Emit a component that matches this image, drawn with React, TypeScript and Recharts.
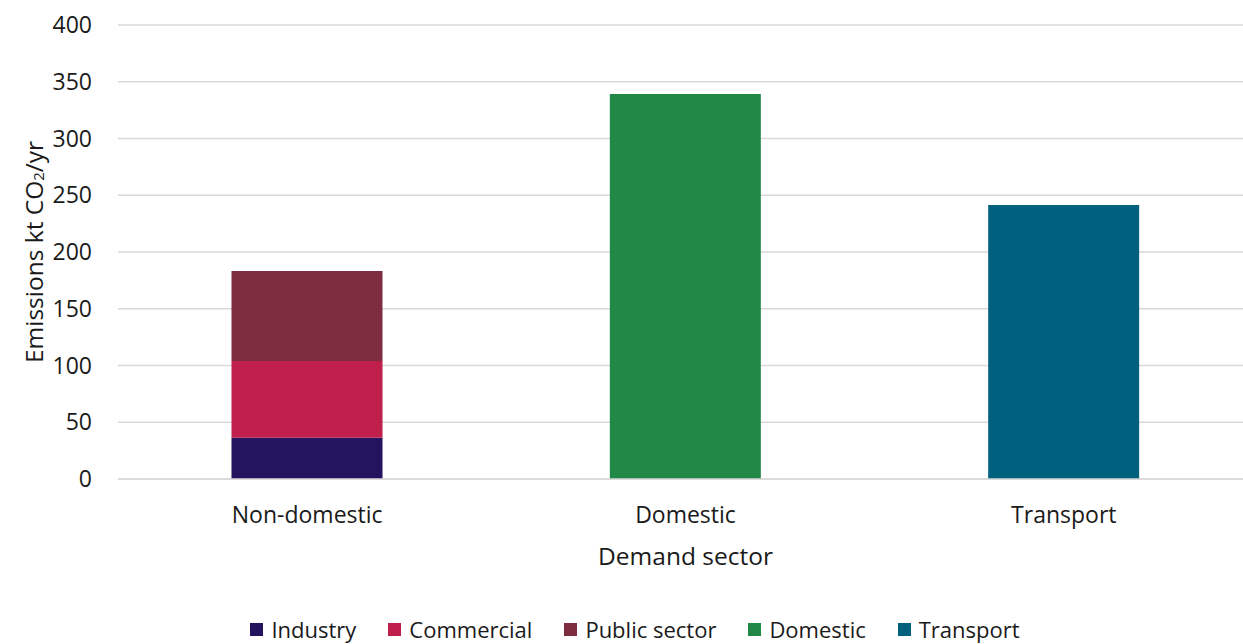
import React from "react";
import { BarChart, Bar, XAxis, YAxis, CartesianGrid, Legend, Label } from "recharts";

const categories = ["Non-domestic", "Domestic", "Transport"];
const industry = [36.4, 0, 0];
const commercial = [67.6, 0, 0];
const publicSector = [79.3, 0, 0];
const domestic = [0, 339.3, 0];
const transport = [0, 0, 241.5];
const yTicks = [0, 50, 100, 150, 200, 250, 300, 350, 400];

const seriesDefs = [
  { key: "industry", name: "Industry", color: "#24135F", values: industry },
  { key: "commercial", name: "Commercial", color: "#BE1F4B", values: commercial },
  { key: "publicSector", name: "Public sector", color: "#7E2D40", values: publicSector },
  { key: "domestic", name: "Domestic", color: "#228848", values: domestic },
  { key: "transport", name: "Transport", color: "#00617F", values: transport },
];

const data = categories.map((c, i) => {
  const row: any = { category: c };
  seriesDefs.forEach((s) => {
    row[s.key] = s.values[i] || null;
  });
  return row;
});

const FONT = "'Open Sans', 'Noto Sans', sans-serif";
const TEXT = "#1a1a1a";
const W = 1270;
const H = 644;

const YLabel = (props: any) => {
  const vb = props.viewBox || {};
  const cy = vb.y + vb.height / 2;
  const cx = 33;
  return (
    <text
      x={cx}
      y={cy}
      transform={`rotate(-90, ${cx}, ${cy})`}
      textAnchor="middle"
      dominantBaseline="central"
      fontSize={24.5}
      fill={TEXT}
      fontFamily={FONT}
    >
      <tspan>Emissions kt CO</tspan>
      <tspan fontSize={15} dy={5}>2</tspan>
      <tspan dy={-5}>/yr</tspan>
    </text>
  );
};

const XLabel = (props: any) => {
  const vb = props.viewBox || {};
  const cx = vb.x + vb.width / 2;
  return (
    <text x={cx} y={565} textAnchor="middle" fontSize={24.5} fill={TEXT} fontFamily={FONT}>
      Demand sector
    </text>
  );
};

const LegendContent = () => (
  <div
    style={{
      display: "flex",
      justifyContent: "center",
      alignItems: "center",
      height: 30,
      fontFamily: FONT,
      fontSize: 22,
      color: TEXT,
    }}
  >
    {seriesDefs.map((s) => (
      <div key={s.key} style={{ display: "flex", alignItems: "center", margin: "0 16px" }}>
        <span
          style={{ display: "inline-block", width: 13, height: 13, background: s.color, marginRight: 8 }}
        />
        <span>{s.name}</span>
      </div>
    ))}
  </div>
);

export default function App() {
  return (
    <div
      style={{
        position: "absolute",
        left: 0,
        top: 0,
        width: 1243,
        height: 644,
        overflow: "hidden",
        background: "#fff",
      }}
    >
      <BarChart
        width={W}
        height={H}
        data={data}
        margin={{ top: 25, right: 17, left: 0, bottom: 0 }}
        barCategoryGap="30%"
        style={{ fontFamily: FONT }}
      >
        <CartesianGrid vertical={false} stroke="#d9d9d9" strokeWidth={1.5} />
        <XAxis
          dataKey="category"
          axisLine={{ stroke: "#d9d9d9", strokeWidth: 1.5 }}
          tickLine={false}
          tickSize={0}
          tickMargin={28}
          height={135}
          tick={{ fontSize: 23, fill: TEXT, fontFamily: FONT }}
        >
          <Label content={<XLabel />} />
        </XAxis>
        <YAxis
          domain={[0, 400]}
          ticks={yTicks}
          width={118}
          axisLine={false}
          tickLine={false}
          tickSize={0}
          tickMargin={26}
          tick={{ fontSize: 23, fill: TEXT, fontFamily: FONT }}
        >
          <Label content={<YLabel />} />
        </YAxis>
        <Legend
          verticalAlign="bottom"
          content={<LegendContent />}
          wrapperStyle={{ left: 0, width: W, bottom: 0, height: 30 }}
        />
        {seriesDefs.map((s) => (
          <Bar
            key={s.key}
            dataKey={s.key}
            name={s.name}
            stackId="a"
            fill={s.color}
            isAnimationActive={false}
          />
        ))}
      </BarChart>
    </div>
  );
}
